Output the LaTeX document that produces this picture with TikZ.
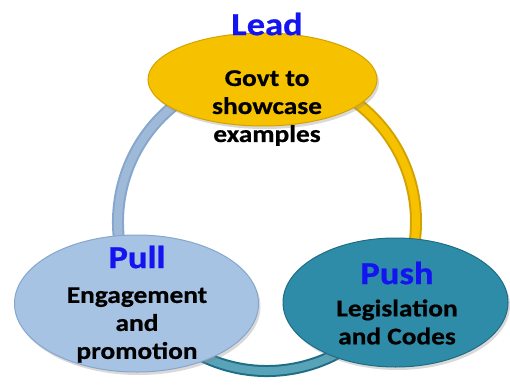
\documentclass[tikz,border=0pt]{standalone}
\usepackage{fontspec}
\setmainfont{Carlito}[FakeStretch=1.14, BoldFeatures={FakeBold=0.7}]
\usepackage{tikz}
\usetikzlibrary{shapes.geometric, shadows, backgrounds}
\definecolor{leadyellow}{HTML}{F6C200}
\definecolor{leadedge}{HTML}{D4A200}
\definecolor{pullblue}{HTML}{A7C3E4}
\definecolor{pulledge}{HTML}{86A6CC}
\definecolor{pushteal}{HTML}{2F8CA8}
\definecolor{pushedge}{HTML}{1E6D85}
\definecolor{headblue}{HTML}{1414F0}
\tikzstyle{bubble} = [ellipse, line width=1pt, drop shadow={opacity=0.3, shadow xshift=2pt, shadow yshift=-3pt}]
\tikzstyle{headline} = [font=\fontsize{32}{36}\selectfont\bfseries, text=headblue, inner sep=0pt]
\tikzstyle{bodytext} = [font=\fontsize{24}{28}\selectfont\bfseries, align=center, inner sep=0pt]
\tikzstyle{tube} = [line width=2pt, double distance=8pt]

\begin{document}
\begin{tikzpicture}[x=1pt, y=1pt]
	\useasboundingbox (0,0) rectangle (510,391);
	\coordinate (hub) at (267,169);
	\coordinate (leadpin) at ([shift={(90:149)}]hub);
	\coordinate (pushpin) at ([shift={(-32:149)}]hub);
	\coordinate (pullpin) at ([shift={(212:149)}]hub);
	\node (lead) [bubble, fill=leadyellow, draw=leadedge, minimum width=229pt, minimum height=93pt] at (262.5,311.5) {};
	\node (pull) [bubble, fill=pullblue, draw=pulledge, minimum width=244pt, minimum height=137pt] at (136.5,87.5) {};
	\node (push) [bubble, fill=pushteal, draw=pushedge, minimum width=225pt, minimum height=129pt] at (395.5,88.5) {};
	\node (leadtitle) [headline] at (267,367) {Lead};
	\node (leadtext) [bodytext] at (267,283) {Govt to\\showcase\\examples};
	\node (pulltitle) [headline] at (137,134) {Pull};
	\node (pulltext) [bodytext] at (137,66) {Engagement\\and\\promotion};
	\node (pushtitle) [headline] at (397,118) {Push};
	\node (pushtext) [bodytext] at (397,69) {Legislation\\and Codes};
	\begin{scope}[on background layer]
		\draw [tube, draw=leadedge, double=leadyellow] (leadpin) arc[start angle=90, end angle=-32, radius=149];
		\draw [tube, draw=pushedge, double=pushteal!80!white] (pushpin) arc[start angle=-32, end angle=-148, radius=149];
		\draw [tube, draw=pulledge, double=pullblue!95!black] (pullpin) arc[start angle=212, end angle=90, radius=149];
	\end{scope}
\end{tikzpicture}
\end{document}
